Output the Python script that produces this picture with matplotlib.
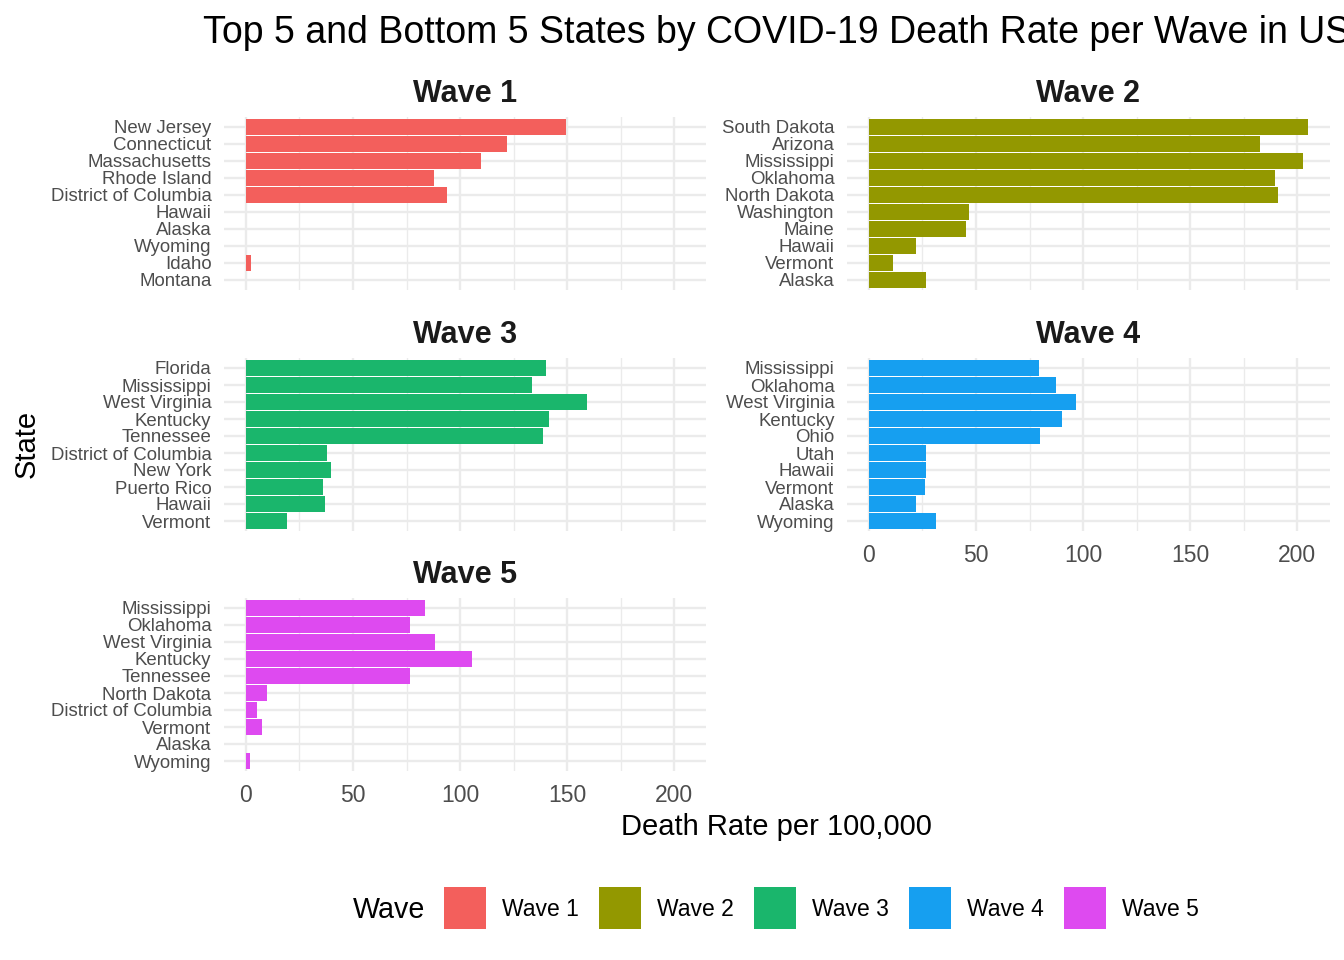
import matplotlib
matplotlib.use("Agg")
import matplotlib.pyplot as plt
from matplotlib.patches import Rectangle

plt.rcParams['font.family'] = ['Liberation Sans', 'DejaVu Sans']

waves = ["Wave 1", "Wave 2", "Wave 3", "Wave 4", "Wave 5"]
colors = ["#F35F5C", "#939800", "#1AB66C", "#169FF0", "#DE4AF0"]

states_w1 = ["New Jersey", "Connecticut", "Massachusetts", "Rhode Island", "District of Columbia",
             "Hawaii", "Alaska", "Wyoming", "Idaho", "Montana"]
rates_w1 = [149.6, 121.9, 109.9, 87.8, 93.8, 0.0, 0.0, 0.0, 2.4, 0.0]

states_w2 = ["South Dakota", "Arizona", "Mississippi", "Oklahoma", "North Dakota",
             "Washington", "Maine", "Hawaii", "Vermont", "Alaska"]
rates_w2 = [204.8, 182.7, 202.5, 189.8, 190.8, 46.8, 45.5, 22.1, 11.3, 26.7]

states_w3 = ["Florida", "Mississippi", "West Virginia", "Kentucky", "Tennessee",
             "District of Columbia", "New York", "Puerto Rico", "Hawaii", "Vermont"]
rates_w3 = [140.1, 133.7, 159.2, 141.6, 138.8, 37.8, 39.7, 35.8, 36.9, 19.1]

states_w4 = ["Mississippi", "Oklahoma", "West Virginia", "Kentucky", "Ohio",
             "Utah", "Hawaii", "Vermont", "Alaska", "Wyoming"]
rates_w4 = [79.5, 87.5, 96.7, 90.2, 80.0, 26.7, 26.7, 26.3, 22.1, 31.5]

states_w5 = ["Mississippi", "Oklahoma", "West Virginia", "Kentucky", "Tennessee",
             "North Dakota", "District of Columbia", "Vermont", "Alaska", "Wyoming"]
rates_w5 = [83.7, 76.6, 88.2, 105.6, 76.6, 9.7, 5.2, 7.5, 0.0, 1.7]

x_ticks = [0, 50, 100, 150, 200]
x_minor = [25, 75, 125, 175]

panel_states = [states_w1, states_w2, states_w3, states_w4, states_w5]
panel_rates = [rates_w1, rates_w2, rates_w3, rates_w4, rates_w5]

W, H = 1344, 960
fig = plt.figure(figsize=(W / 100, H / 100), dpi=100)

# panel boxes in pixels
col_x = [(224, 706.5), (847, 1329.5)]
row_y = [(116.8, 290.2), (357.8, 531.2), (597.8, 771.2)]
show_xlab = [False, False, False, True, True]

allmax = max(max(r) for r in panel_rates)
xlim = (-0.05 * allmax, 1.05 * allmax)

grid_c = "#EBEBEB"
for i in range(5):
    r, c = divmod(i, 2)
    x0, x1 = col_x[c]
    y0, y1 = row_y[r]
    ax = fig.add_axes([x0 / W, 1 - y1 / H, (x1 - x0) / W, (y1 - y0) / H])
    sts = panel_states[i]
    vals = panel_rates[i]
    n = len(sts)
    ypos = [n - 1 - k for k in range(n)]
    ax.barh(ypos, vals, height=0.9, color=colors[i], zorder=3)
    ax.set_xlim(*xlim)
    ax.set_ylim(-0.6, n - 0.4)
    ax.set_yticks(ypos)
    ax.set_yticklabels(sts, fontsize=13.4, color="#4D4D4D")
    ax.set_xticks(x_ticks)
    ax.set_xticks(x_minor, minor=True)
    if show_xlab[i]:
        ax.set_xticklabels([str(t) for t in x_ticks], fontsize=16.5, color="#4D4D4D")
    else:
        ax.set_xticklabels([])
    ax.tick_params(axis="both", which="both", length=0)
    ax.tick_params(axis="y", pad=9)
    ax.tick_params(axis="x", pad=9.5)
    ax.grid(True, which="major", axis="both", color=grid_c, linewidth=1.7, zorder=0)
    ax.grid(True, which="minor", axis="x", color=grid_c, linewidth=0.95, zorder=0)
    for s in ax.spines.values():
        s.set_visible(False)
    ax.set_facecolor("white")
    ax.set_axisbelow(True)
    # strip title
    fig.text(((x0 + x1) / 2) / W, 1 - (y0 - 23) / H, waves[i], fontsize=22, fontweight="bold",
             color="#1A1A1A", ha="center", va="center")

# main title
fig.text(((224 + 1329.5) / 2) / W, 1 - 33 / H,
         "Top 5 and Bottom 5 States by COVID-19 Death Rate per Wave in US",
         fontsize=27, ha="center", va="center", color="black")

# axis titles
fig.text(776 / W, 1 - 827 / H, "Death Rate per 100,000", fontsize=21, ha="center", va="center")
fig.text(27 / W, 1 - 444 / H, "State", fontsize=21, ha="center", va="center", rotation=90)

# legend
fig.text(353 / W, 1 - 910 / H, "Wave", fontsize=20.6, ha="left", va="center")
for i, (lab, col) in enumerate(zip(waves, colors)):
    kx = 444 + 155 * i
    fig.patches.append(Rectangle((kx / W, 1 - 929 / H), 42 / W, 42 / H,
                                 transform=fig.transFigure, facecolor=col, edgecolor="none"))
    fig.text((kx + 58) / W, 1 - 910 / H, lab, fontsize=16.5, ha="left", va="center")

fig.savefig("out.png", dpi=100, facecolor="white")
